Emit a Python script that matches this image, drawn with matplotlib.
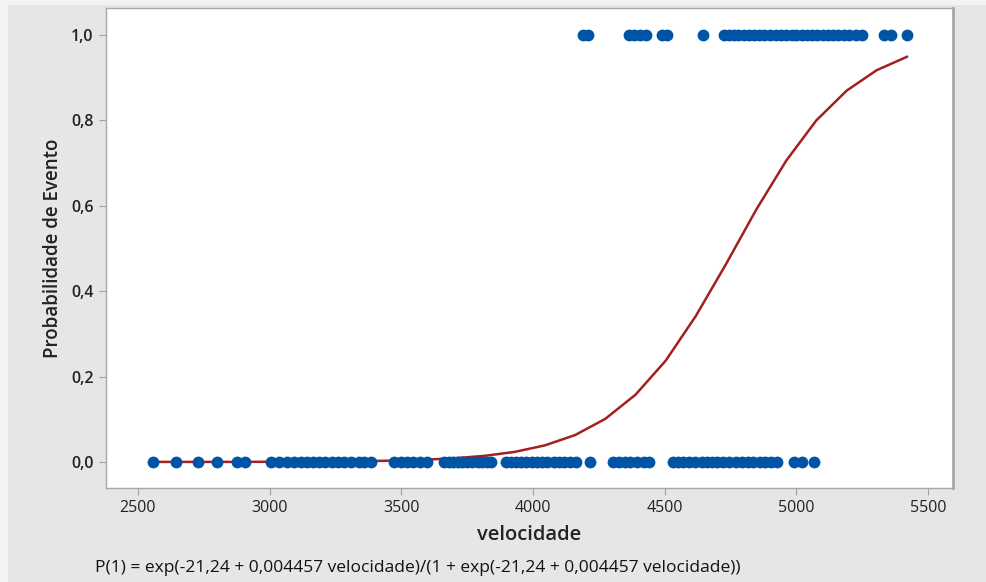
import matplotlib.pyplot as plt
import matplotlib.patches as mpatches
import numpy as np

vel_evento_0 = [2557, 2644, 2728, 2800, 2876, 2906,
                3005, 3035, 3065, 3092, 3120, 3142, 3165, 3188, 3210, 3236,
                3260, 3284, 3310, 3338, 3360, 3385,
                3472, 3498, 3520, 3546, 3570, 3597,
                3662, 3680, 3698, 3715, 3732, 3750, 3770, 3790, 3808, 3825, 3840,
                3897, 3915, 3935, 3955, 3975, 3995, 4015, 4035, 4055, 4078,
                4098, 4118, 4140, 4163,
                4216,
                4304, 4325, 4348, 4370, 4395, 4420, 4441,
                4532, 4550, 4570, 4592, 4615, 4640, 4660, 4680, 4700, 4720,
                4745, 4770, 4792, 4815, 4835, 4862, 4882, 4905, 4927,
                4990, 5020, 5068]
vel_evento_1 = [4190, 4209,
                4364, 4385, 4405, 4429,
                4490, 4510,
                4645,
                4725, 4745, 4764, 4780, 4800, 4822, 4840, 4860, 4878, 4900,
                4922, 4940, 4960, 4982, 5000, 5020, 5042, 5060, 5080, 5100,
                5122, 5140, 5160, 5182, 5200, 5225, 5249,
                5333, 5360,
                5422]

# fitted line vertices
curva_x = [2556, 2671, 2785, 2900, 3014, 3129, 3243, 3358, 3473, 3587,
           3702, 3816, 3931, 4045, 4160, 4274, 4389, 4504, 4618, 4733,
           4847, 4962, 5076, 5191, 5305, 5420]
curva_p = [0.0001, 0.0001, 0.0001, 0.0002, 0.0004, 0.0007, 0.0011, 0.0019,
           0.0031, 0.0052, 0.0087, 0.0143, 0.0236, 0.0388, 0.0630, 0.1007,
           0.1573, 0.2372, 0.3414, 0.4633, 0.5900, 0.7058, 0.7998, 0.8694,
           0.9173, 0.9487]

xticks = [2500, 3000, 3500, 4000, 4500, 5000, 5500]
yticks = [0.0, 0.2, 0.4, 0.6, 0.8, 1.0]
ytick_labels = ['0,0', '0,2', '0,4', '0,6', '0,8', '1,0']
formula = 'P(1) = exp(-21,24 + 0,004457 velocidade)/(1 + exp(-21,24 + 0,004457 velocidade))'

plt.rcParams['font.family'] = ['Open Sans', 'DejaVu Sans']

fig = plt.figure(figsize=(9.86, 5.82), dpi=100)
fig.patch.set_facecolor('#e6e6e6')
# light screenshot edges
fig.patches.append(mpatches.Rectangle((0, 0), 8 / 986, 1, transform=fig.transFigure,
                                      facecolor='#f3f3f3', edgecolor='none', zorder=0))
fig.patches.append(mpatches.Rectangle((0, 1 - 5 / 582), 1, 5 / 582, transform=fig.transFigure,
                                      facecolor='#f3f3f3', edgecolor='none', zorder=0))

ax = fig.add_axes([106 / 986, 94 / 582, 847 / 986, 480 / 582])
ax.set_facecolor('white')

ax.plot(curva_x, curva_p, color='#a3201f', linewidth=1.8, zorder=2)
ax.plot(vel_evento_0, np.zeros(len(vel_evento_0)), 'o', color='#0054a6',
        markersize=8.5, markeredgewidth=0, zorder=3)
ax.plot(vel_evento_1, np.ones(len(vel_evento_1)), 'o', color='#0054a6',
        markersize=8.5, markeredgewidth=0, zorder=3)

ax.set_xlim(2378.5, 5595)
ax.set_ylim(-0.061, 1.063)
ax.set_xticks(xticks)
ax.set_xticklabels([str(v) for v in xticks], fontsize=11.5, color='#222222')
ax.set_yticks(yticks)
ax.set_yticklabels(ytick_labels, fontsize=11.5, color='#222222', fontweight='semibold')
ax.tick_params(axis='both', direction='out', length=5, width=0.8, color='#a0a0a0', pad=4)

for s in ax.spines.values():
    s.set_color('#a8a8a8')
    s.set_linewidth(1.0)
ax.spines['right'].set_linewidth(2.0)

ax.set_xlabel('velocidade', fontsize=14.5, fontweight='semibold', color='#222222', labelpad=6)
ax.set_ylabel('Probabilidade de Evento', fontsize=13.5, fontweight='semibold', color='#222222', labelpad=6)

fig.text(95 / 986, 1 - 568 / 582, formula, fontsize=12.5, color='#111111', va='center', ha='left')

fig.savefig('out.png', dpi=100, facecolor=fig.get_facecolor())
